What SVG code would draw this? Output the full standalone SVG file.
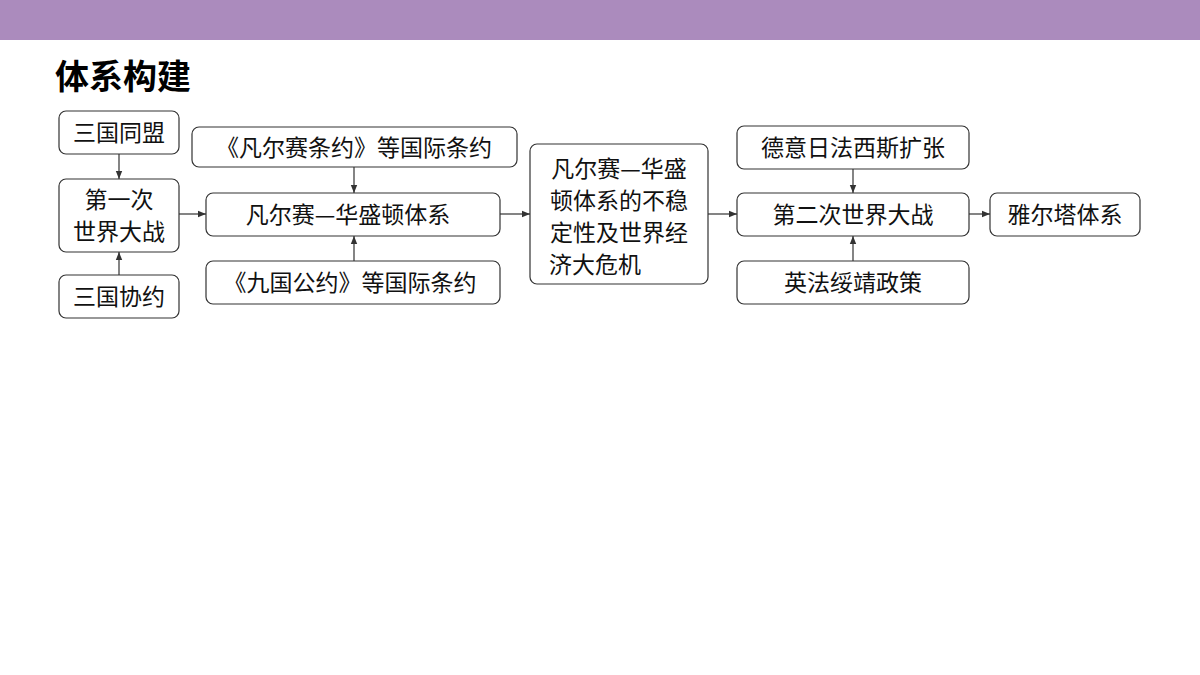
<svg xmlns="http://www.w3.org/2000/svg" width="1200" height="675" viewBox="0 0 1200 675">
<style>
.b{fill:#fff;stroke:#333;stroke-width:1.2}
.t{font-family:"Noto Sans CJK SC",sans-serif;font-size:23px;fill:#111;text-anchor:middle}
.c{stroke:#333;stroke-width:1.2;fill:none;marker-end:url(#a)}
</style>
<defs><marker id="a" viewBox="0 0 10 10" refX="10" refY="5" markerWidth="7" markerHeight="7" orient="auto"><path d="M0,1L10,5L0,9z" fill="#333"/></marker></defs>
<rect x="0" y="0" width="1200" height="40" fill="#ab8bbd"/>
<text x="55" y="89" font-family="'Noto Sans CJK SC',sans-serif" font-size="34" font-weight="bold" fill="#000">体系构建</text>
<g id="connectors">
<path class="c" d="M119,154V179"/>
<path class="c" d="M119,275V252"/>
<path class="c" d="M179,214H206"/>
<path class="c" d="M354,167V193"/>
<path class="c" d="M354,261V236"/>
<path class="c" d="M500,214H530"/>
<path class="c" d="M708,214H737"/>
<path class="c" d="M853,169V193"/>
<path class="c" d="M853,261V236"/>
<path class="c" d="M969,214H990"/>
</g>
<g id="n1"><rect class="b" x="59" y="111" width="120" height="43" rx="7"/><text class="t" x="119" y="141">三国同盟</text></g>
<g id="n2"><rect class="b" x="59" y="179" width="120" height="73" rx="7"/><text class="t" x="119" y="208">第一次</text><text class="t" x="119" y="240">世界大战</text></g>
<g id="n3"><rect class="b" x="59" y="275" width="120" height="43" rx="7"/><text class="t" x="119" y="305">三国协约</text></g>
<g id="n4"><rect class="b" x="192" y="127" width="325" height="40" rx="7"/><text class="t" x="354" y="156">《凡尔赛条约》等国际条约</text></g>
<g id="n5"><rect class="b" x="206" y="193" width="294" height="43" rx="7"/><text class="t" x="348" y="223">凡尔赛—华盛顿体系</text></g>
<g id="n6"><rect class="b" x="206" y="261" width="294" height="43" rx="7"/><text class="t" x="350" y="291">《九国公约》等国际条约</text></g>
<g id="n7"><rect class="b" x="530" y="144" width="178" height="140" rx="7"/><text class="t" x="619" y="177">凡尔赛—华盛</text><text class="t" x="619" y="209">顿体系的不稳</text><text class="t" x="619" y="241">定性及世界经</text><text class="t" x="595" y="273">济大危机</text></g>
<g id="n8"><rect class="b" x="737" y="126" width="232" height="43" rx="7"/><text class="t" x="853" y="156">德意日法西斯扩张</text></g>
<g id="n9"><rect class="b" x="737" y="193" width="232" height="43" rx="7"/><text class="t" x="853" y="223">第二次世界大战</text></g>
<g id="n10"><rect class="b" x="737" y="261" width="232" height="43" rx="7"/><text class="t" x="853" y="291">英法绥靖政策</text></g>
<g id="n11"><rect class="b" x="990" y="193" width="150" height="43" rx="7"/><text class="t" x="1065" y="223">雅尔塔体系</text></g>
</svg>
